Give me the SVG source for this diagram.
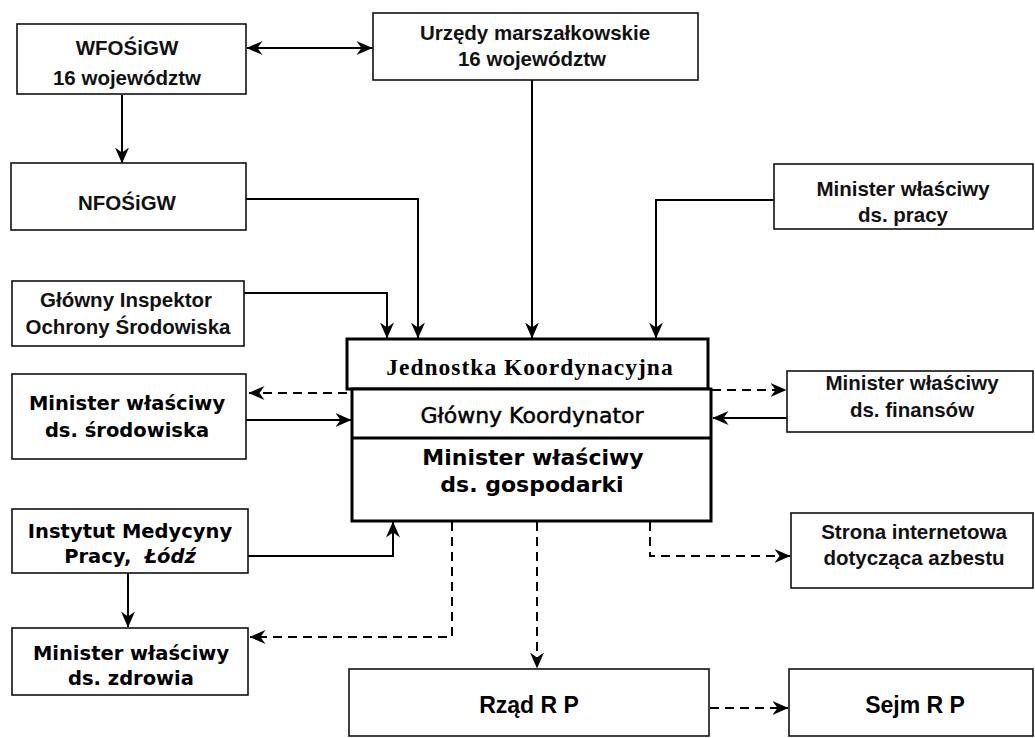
<svg xmlns="http://www.w3.org/2000/svg" width="1035" height="738" viewBox="0 0 1035 738">
<style>
.box{fill:#fff;stroke:#111;stroke-width:1.6}
.mbox{fill:#fff;stroke:#000;stroke-width:3}
.ln{fill:none;stroke:#000;stroke-width:2}
.ds{fill:none;stroke:#000;stroke-width:2;stroke-dasharray:9 6}
.lt{font-family:"Liberation Sans",Arial,sans-serif;font-weight:bold;font-size:20.5px;text-anchor:middle;fill:#111}
.hv{font-family:"DejaVu Sans",Verdana,sans-serif;font-weight:bold;font-size:19.5px;text-anchor:middle;fill:#000}
.jk{font-family:"Liberation Serif","Times New Roman",serif;font-weight:bold;font-size:23.5px;letter-spacing:1px;text-anchor:middle;fill:#000}
.gk{font-family:"DejaVu Sans",Verdana,sans-serif;font-size:22px;text-anchor:middle;fill:#000;stroke:#000;stroke-width:0.5}
.mg{font-family:"DejaVu Sans",Verdana,sans-serif;font-weight:bold;font-size:22px;text-anchor:middle;fill:#000}
.rp{font-family:"Liberation Sans",Arial,sans-serif;font-weight:bold;font-size:23px;text-anchor:middle;fill:#000}
</style>
<defs>
<marker id="ah" markerWidth="16" markerHeight="16" viewBox="0 0 16 16" refX="15.5" refY="8" orient="auto-start-reverse" markerUnits="userSpaceOnUse">
<path d="M0,1 L16,8 L0,15 L5,8 z" fill="#000"/>
</marker>
</defs>
<rect width="1035" height="738" fill="#fff"/>

<g id="connectors">
<line class="ln" x1="247" y1="48" x2="372" y2="48" marker-start="url(#ah)" marker-end="url(#ah)"/>
<line class="ln" x1="122" y1="95" x2="122" y2="163" marker-end="url(#ah)"/>
<polyline class="ln" points="246,199 418,199 418,338" marker-end="url(#ah)"/>
<line class="ln" x1="532" y1="80" x2="532" y2="338" marker-end="url(#ah)"/>
<polyline class="ln" points="774,200 656,200 656,338" marker-end="url(#ah)"/>
<polyline class="ln" points="244,293 387,293 387,338" marker-end="url(#ah)"/>
<line class="ds" x1="347" y1="393" x2="249" y2="393" marker-end="url(#ah)"/>
<line class="ln" x1="246" y1="420" x2="351" y2="420" marker-end="url(#ah)"/>
<line class="ds" x1="712" y1="390" x2="786" y2="390" marker-end="url(#ah)"/>
<line class="ln" x1="787" y1="418" x2="713" y2="418" marker-end="url(#ah)"/>
<polyline class="ln" points="248,556 393,556 393,522" marker-end="url(#ah)"/>
<line class="ln" x1="128" y1="573" x2="128" y2="627" marker-end="url(#ah)"/>
<polyline class="ds" points="452,522 452,637 250,637" marker-end="url(#ah)"/>
<line class="ds" x1="537" y1="522" x2="537" y2="668" marker-end="url(#ah)"/>
<polyline class="ds" points="650,522 650,556 790,556" marker-end="url(#ah)"/>
<line class="ds" x1="710" y1="708" x2="788" y2="708" marker-end="url(#ah)"/>
</g>

<g id="wfosigw">
<rect class="box" x="17" y="24" width="229" height="70"/>
<text class="lt" x="127" y="55">WFOŚiGW</text>
<text class="lt" x="127" y="85">16 województw</text>
</g>
<g id="urzedy">
<rect class="box" x="373" y="13" width="325" height="67"/>
<text class="lt" x="535" y="40">Urzędy marszałkowskie</text>
<text class="lt" x="532" y="66">16 województw</text>
</g>
<g id="nfosigw">
<rect class="box" x="11" y="163" width="235" height="67"/>
<text class="lt" x="127" y="210">NFOŚiGW</text>
</g>
<g id="pracy">
<rect class="box" x="774" y="164" width="259" height="65"/>
<text class="lt" x="903" y="196">Minister właściwy</text>
<text class="lt" x="903" y="222">ds. pracy</text>
</g>
<g id="inspektor">
<rect class="box" x="12" y="281" width="232" height="65"/>
<text class="lt" x="126" y="307">Główny Inspektor</text>
<text class="lt" x="128" y="334">Ochrony Środowiska</text>
</g>
<g id="srodowiska">
<rect class="box" x="12" y="374" width="234" height="85"/>
<text class="hv" x="127" y="410">Minister właściwy</text>
<text class="hv" x="127" y="437">ds. środowiska</text>
</g>
<g id="koordynacja">
<rect class="mbox" x="347" y="339" width="361" height="50"/>
<rect class="mbox" x="352" y="389" width="359" height="132"/>
<line class="mbox" x1="352" y1="438" x2="711" y2="438"/>
<text class="jk" x="530" y="375">Jednostka Koordynacyjna</text>
<text class="gk" x="532" y="423">Główny Koordynator</text>
<text class="mg" x="533" y="465">Minister właściwy</text>
<text class="mg" x="532" y="492">ds. gospodarki</text>
</g>
<g id="finansow">
<rect class="box" x="787" y="371" width="246" height="61"/>
<text class="lt" x="912" y="390">Minister właściwy</text>
<text class="lt" x="912" y="417">ds. finansów</text>
</g>
<g id="instytut">
<rect class="box" x="12" y="509" width="236" height="64"/>
<text class="hv" x="130" y="538">Instytut Medycyny</text>
<text class="hv" x="130" y="563">Pracy, <tspan font-style="italic" dx="6">Łódź</tspan></text>
</g>
<g id="strona">
<rect class="box" x="791" y="513" width="242" height="75"/>
<text class="lt" x="914" y="539">Strona internetowa</text>
<text class="lt" x="914" y="565">dotycząca azbestu</text>
</g>
<g id="zdrowia">
<rect class="box" x="12" y="628" width="236" height="67"/>
<text class="hv" x="131" y="660">Minister właściwy</text>
<text class="hv" x="131" y="685">ds. zdrowia</text>
</g>
<g id="rzad">
<rect class="box" x="349" y="669" width="360" height="67"/>
<text class="rp" x="529" y="713">Rząd R P</text>
</g>
<g id="sejm">
<rect class="box" x="789" y="669" width="244" height="67"/>
<text class="rp" x="915" y="713">Sejm R P</text>
</g>
</svg>
